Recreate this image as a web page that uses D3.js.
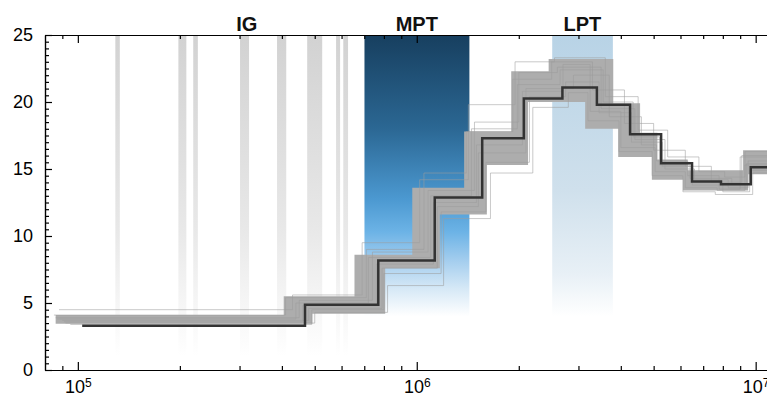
<!DOCTYPE html>
<html>
<head>
<meta charset="utf-8">
<script src="https://cdn.jsdelivr.net/npm/d3@7"></script>
<style>
  body { margin: 0; background: #fff; }
  svg { display: block; font-family: "Liberation Sans", Arial, sans-serif; }
</style>
</head>
<body>
<div id="chart"></div>
<script>
// main (median) step curve: time of each step start, then value of each step
var mainT = [1.03e5, 4.68e5, 7.70e5, 1.13e6, 1.56e6, 2.07e6, 2.69e6, 3.40e6, 4.26e6, 5.26e6, 6.49e6, 7.90e6, 9.67e6, 1.3e7]
var mainV = [3.3, 4.87, 8.17, 12.88, 17.3, 20.26, 21.08, 19.8, 17.6, 15.43, 14.06, 13.87, 15.13]

// dense grey band of the bootstrap replicates (upper / lower envelope)
var bandUpperT = [8.6e4, 4.05e5, 6.55e5, 9.7e5, 1.38e6, 1.9e6, 2.45e6, 3.8e6, 4.56e6, 5.13e6, 6.3e6, 9.18e6, 1.3e7]
var bandUpperV = [4.1, 5.5, 8.6, 13.6, 17.8, 22.3, 23.2, 19.9, 17.7, 15.7, 14.9, 16.4]
var bandLowerT = [8.6e4, 4.92e5, 8.07e5, 1.17e6, 1.61e6, 2.13e6, 3.14e6, 3.93e6, 4.94e6, 6.1e6, 9.5e6, 1.3e7]
var bandLowerV = [3.45, 4.2, 7.6, 11.6, 15.3, 20.0, 18.0, 15.9, 14.2, 13.4, 14.6]

// a few single replicates that stick out of the band
var repT = [
  [8.8e4, 4.3e5, 6.9e5, 1.02e6, 1.42e6, 1.95e6, 2.55e6, 3.6e6, 4.5e6, 5.5e6, 6.8e6, 8.1e6, 9.3e6, 1.3e7],
  [9.2e4, 5.0e5, 8.2e5, 1.2e6, 1.65e6, 2.2e6, 2.8e6, 3.2e6, 3.95e6, 4.95e6, 6.1e6, 7.6e6, 9.8e6, 1.3e7],
  [8.6e4, 4.5e5, 7.4e5, 1.08e6, 1.48e6, 2.0e6, 2.6e6, 3.5e6, 4.4e6, 5.4e6, 6.6e6, 8.3e6, 9.5e6, 1.3e7],
  [9.0e4, 4.8e5, 7.9e5, 1.15e6, 1.52e6, 2.1e6, 2.9e6, 3.7e6, 4.6e6, 5.1e6, 6.3e6, 7.8e6, 9.0e6, 1.3e7],
  [8.5e4, 4.1e5, 7.1e5, 1.05e6, 1.40e6, 1.92e6, 2.5e6, 3.3e6, 4.1e6, 5.0e6, 6.2e6, 7.4e6, 9.1e6, 1.3e7],
  [9.5e4, 4.9e5, 8.0e5, 1.18e6, 1.60e6, 2.15e6, 2.75e6, 3.45e6, 4.3e6, 5.3e6, 6.5e6, 8.0e6, 9.6e6, 1.3e7],
  [8.7e4, 4.4e5, 7.2e5, 1.1e6, 1.45e6, 1.98e6, 2.65e6, 3.55e6, 4.35e6, 5.2e6, 6.4e6, 8.5e6, 9.4e6, 1.3e7],
  [9.1e4, 4.6e5, 7.6e5, 1.12e6, 1.5e6, 2.05e6, 2.7e6, 3.25e6, 4.0e6, 5.05e6, 6.2e6, 7.7e6, 9.3e6, 1.3e7]
]
var repV = [
  [4.5, 5.6, 9.5, 14.2, 19.8, 23.0, 23.3, 20.4, 17.9, 15.9, 14.8, 14.4, 16.3],
  [3.5, 4.3, 6.3, 11.3, 14.7, 19.6, 20.7, 18.6, 16.3, 14.5, 13.3, 13.1, 14.7],
  [3.9, 5.2, 8.8, 13.4, 18.5, 22.2, 22.6, 19.5, 17.2, 15.0, 14.2, 13.6, 15.6],
  [3.7, 4.6, 7.6, 12.2, 16.2, 21.0, 22.0, 18.9, 16.8, 15.6, 14.5, 13.5, 15.9],
  [4.1, 5.4, 9.0, 14.7, 17.8, 21.7, 23.0, 20.9, 18.4, 16.4, 15.2, 14.0, 16.0],
  [3.4, 4.5, 7.2, 11.8, 15.5, 20.4, 21.5, 19.2, 17.0, 15.2, 13.8, 13.3, 14.9],
  [3.8, 5.0, 8.4, 13.0, 18.0, 21.3, 22.4, 20.0, 17.4, 15.3, 14.3, 13.9, 15.4],
  [3.6, 4.8, 7.9, 12.5, 16.8, 20.8, 22.8, 19.3, 16.6, 14.8, 13.6, 13.4, 15.3]
]

// interglacial grey bars (time ranges)
var igStart = [1.29e5, 1.98e5, 2.19e5, 3.01e5, 3.87e5, 4.75e5, 5.78e5, 6.07e5]
var igEnd   = [1.33e5, 2.09e5, 2.26e5, 3.20e5, 4.12e5, 5.26e5, 5.94e5, 6.27e5]

// labelled periods
var periodNames = ["IG", "MPT", "LPT"]
var periodLabelT = [3.15e5, 1.0e6, 3.08e6]
var mptRange = [7.01e5, 1.43e6]
var lptRange = [2.51e6, 3.79e6]

var xMajor = [1e5, 1e6, 1e7]
var xExp = [5, 6, 7]
var yMajor = [0, 5, 10, 15, 20, 25]

class stepchart {
  constructor(parent){
    this.parent = parent
    this.width = 767
    this.height = 398
    this.left = 45
    this.top = 35
    this.bottom = 370
    this.draw()
  }
  draw(){
    this.svg = this.parent.append("svg")
                  .attr("width", this.width)
                  .attr("height", this.height)
    this.x = d3.scaleLog().domain([8.0e4, 1.08e7]).range([this.left, this.width])
    this.y = d3.scaleLinear().domain([0, 25]).range([this.bottom, this.top])
    var x = this.x, y = this.y

    var defs = this.svg.append("defs")
    this.gradient(defs, "igGrad", [[0, "#d2d2d2"], [0.6, "#e8e8e8"], [1, "#ffffff"]])
    this.gradient(defs, "mptGrad", [[0, "#173f5f"], [0.33, "#2b6793"], [0.58, "#4b98d0"],
                                     [0.7, "#6cb3e6"], [0.8, "#a3cdee"], [0.9, "#d5e8f6"], [1, "#ffffff"]])
    this.gradient(defs, "lptGrad", [[0, "#b8d3e6"], [0.55, "#cfe0ec"], [0.85, "#e8f0f6"], [1, "#ffffff"]])

    // IG bars
    this.svg.append("g").selectAll("rect")
        .data(igStart)
        .join("rect")
        .attr("x", d => x(d))
        .attr("width", (d, i) => x(igEnd[i]) - x(d))
        .attr("y", y(25))
        .attr("height", y(1) - y(25))
        .attr("fill", "url(#igGrad)")

    this.svg.append("rect")
        .attr("x", x(mptRange[0])).attr("width", x(mptRange[1]) - x(mptRange[0]))
        .attr("y", y(25)).attr("height", y(4) - y(25))
        .attr("fill", "url(#mptGrad)")
    this.svg.append("rect")
        .attr("x", x(lptRange[0])).attr("width", x(lptRange[1]) - x(lptRange[0]))
        .attr("y", y(25)).attr("height", y(4) - y(25))
        .attr("fill", "url(#lptGrad)")

    var line = d3.line().curve(d3.curveStepAfter).x(d => x(d[0])).y(d => y(d[1]))
    var pts = function(T, V){
      var out = V.map((v, i) => [T[i], v])
      out.push([T[T.length - 1], V[V.length - 1]])
      return out
    }

    // band between envelopes
    var stepAt = function(T, V, t){
      var i = d3.bisectRight(T, t) - 1
      return V[Math.max(0, Math.min(i, V.length - 1))]
    }
    var allT = Array.from(new Set(bandUpperT.concat(bandLowerT))).sort((a, b) => a - b)
    var bandPts = allT.map(t => [t, stepAt(bandLowerT, bandLowerV, t), stepAt(bandUpperT, bandUpperV, t)])
    var area = d3.area().curve(d3.curveStepAfter)
        .x(d => x(d[0])).y0(d => y(d[1])).y1(d => y(d[2]))
    this.svg.append("path")
        .attr("d", area(bandPts))
        .attr("fill", "#adadad")

    // single replicates
    this.svg.append("g").selectAll("path")
        .data(repT)
        .join("path")
        .attr("d", (d, i) => line(pts(d, repV[i])))
        .attr("fill", "none")
        .attr("stroke", "#9c9c9c")
        .attr("stroke-opacity", 0.55)
        .attr("stroke-width", 1)

    // main curve
    this.svg.append("path")
        .attr("d", line(pts(mainT, mainV)))
        .attr("fill", "none")
        .attr("stroke", "#333333")
        .attr("stroke-width", 2.5)

    this.axes()

    // period labels
    this.svg.append("g").selectAll("text")
        .data(periodNames)
        .join("text")
        .attr("x", (d, i) => x(periodLabelT[i]))
        .attr("y", 31)
        .attr("text-anchor", "middle")
        .attr("font-size", 20)
        .attr("font-weight", "bold")
        .attr("fill", "#111")
        .text(d => d)
  }//end of draw

  gradient(defs, id, stops){
    var g = defs.append("linearGradient").attr("id", id)
                .attr("x1", 0).attr("y1", 0).attr("x2", 0).attr("y2", 1)
    stops.forEach(s => g.append("stop").attr("offset", s[0]).attr("stop-color", s[1]))
  }

  axes(){
    var x = this.x, y = this.y
    var minorX = []
    for (var e = 4; e < 7; e++) {
      for (var k = 2; k < 10; k++) {
        var v = k * Math.pow(10, e)
        if (v > 8.0e4 && v < 1.08e7) minorX.push(v)
      }
    }
    var minorY = d3.range(0, 25.01, 0.5).filter(d => d % 5 != 0)

    var style = g => {
      g.selectAll("path, line").attr("stroke", "#000").attr("stroke-width", 1.2)
      g.selectAll("text").attr("fill", "#000").attr("font-size", 18)
        .attr("font-family", "'Liberation Sans', Arial, sans-serif")
    }

    // left
    this.svg.append("g").attr("transform", `translate(${this.left},0)`)
        .call(d3.axisLeft(y).tickValues(minorY).tickSize(-4).tickSizeOuter(0).tickFormat(""))
        .call(style)
    this.svg.append("g").attr("transform", `translate(${this.left},0)`)
        .call(d3.axisLeft(y).tickValues(yMajor).tickSize(-7).tickSizeOuter(0).tickPadding(12))
        .call(style)

    // bottom
    this.svg.append("g").attr("transform", `translate(0,${this.bottom})`)
        .call(d3.axisBottom(x).tickValues(minorX).tickSize(-4).tickSizeOuter(0).tickFormat(""))
        .call(style)
    var bx = this.svg.append("g").attr("transform", `translate(0,${this.bottom})`)
        .call(d3.axisBottom(x).tickValues(xMajor).tickSize(-8).tickSizeOuter(0).tickPadding(10).tickFormat(d => "10"))
        .call(style)
    bx.selectAll(".tick text").each(function(d, i){
      d3.select(this).append("tspan")
        .attr("dy", "-0.5em")
        .attr("font-size", 12)
        .text(xExp[i])
    })

    // top
    this.svg.append("g").attr("transform", `translate(0,${this.top})`)
        .call(d3.axisTop(x).tickValues(minorX).tickSize(-4).tickSizeOuter(0).tickFormat(""))
        .call(style)
    this.svg.append("g").attr("transform", `translate(0,${this.top})`)
        .call(d3.axisTop(x).tickValues(xMajor).tickSize(-8).tickSizeOuter(0).tickFormat(""))
        .call(style)
  }
};

var chart = new stepchart(d3.select("body").select("#chart"))
</script>
</body>
</html>
